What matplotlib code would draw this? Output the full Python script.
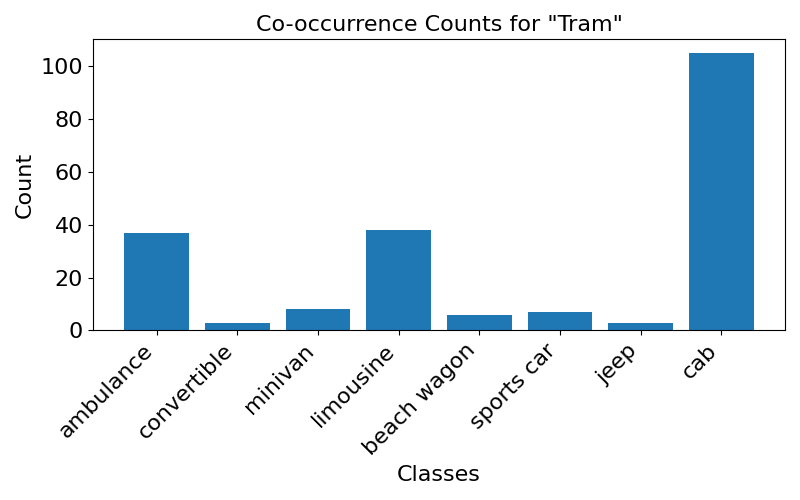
import matplotlib
matplotlib.use("Agg")
import matplotlib.pyplot as plt

classes = ["ambulance", "convertible", "minivan", "limousine", "beach wagon", "sports car", "jeep", "cab"]
counts = [37, 3, 8, 38, 6, 7, 3, 105]

fig, ax = plt.subplots(figsize=(8, 5), dpi=100)
ax.bar(classes, counts, color="#1f77b4")
ax.set_title('Co-occurrence Counts for "Tram"', fontsize=16)
ax.set_xlabel("Classes", fontsize=16)
ax.set_ylabel("Count", fontsize=16)
ax.tick_params(axis="both", labelsize=16)
plt.setp(ax.get_xticklabels(), rotation=45, ha="right")
fig.tight_layout()
fig.savefig("out.png")
